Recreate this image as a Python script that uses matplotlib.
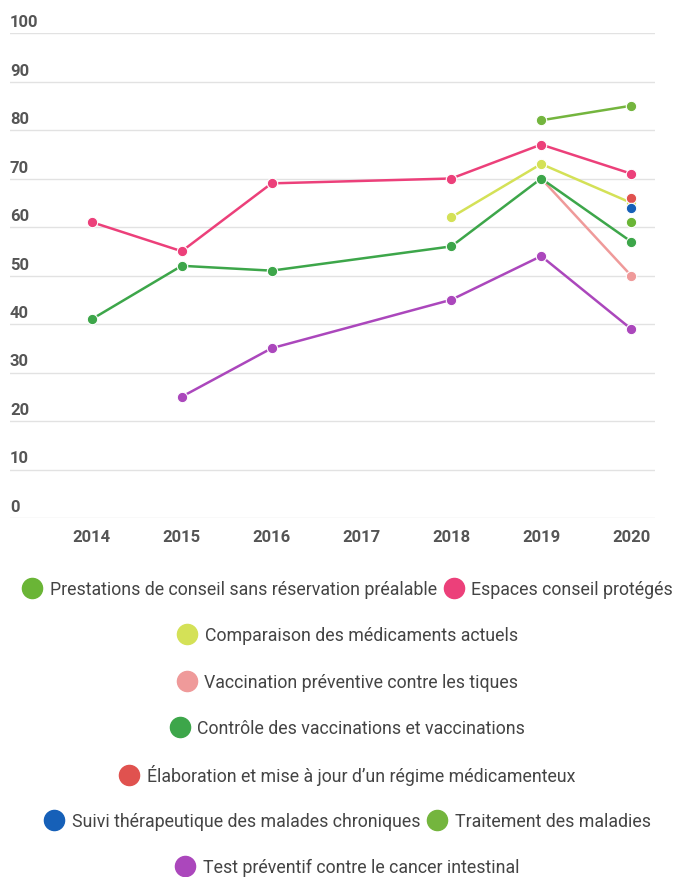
import numpy as np
import matplotlib.pyplot as plt
from matplotlib.lines import Line2D
import matplotlib.transforms as mtransforms

plt.rcParams['font.family'] = ['Roboto', 'DejaVu Sans']

nan = np.nan
years = ['2014', '2015', '2016', '2017', '2018', '2019', '2020']

prestations = [nan, nan, nan, nan, nan, nan, 61]
espaces = [61, 55, 69, nan, 70, 77, 71]
comparaison = [nan, nan, nan, nan, 62, 73, 65]
vacc_tiques = [nan, nan, nan, nan, nan, 70, 50]
controle = [41, 52, 51, nan, 56, 70, 57]
elaboration = [nan, nan, nan, nan, nan, nan, 66]
suivi = [nan, nan, nan, nan, nan, nan, 64]
traitement = [nan, nan, nan, nan, nan, 82, 85]
test_cancer = [nan, 25, 35, nan, 45, 54, 39]

labels = ['Prestations de conseil sans réservation préalable',
          'Espaces conseil protégés',
          'Comparaison des médicaments actuels',
          'Vaccination préventive contre les tiques',
          'Contrôle des vaccinations et vaccinations',
          "Élaboration et mise à jour d’un régime médicamenteux",
          'Suivi thérapeutique des malades chroniques',
          'Traitement des maladies',
          'Test préventif contre le cancer intestinal']
series = [prestations, espaces, comparaison, vacc_tiques, controle,
          elaboration, suivi, traitement, test_cancer]
colors = ['#6ab536', '#ec407a', '#d4e157', '#ef9a9a', '#3da64a',
          '#e0524f', '#1660b8', '#74b53e', '#ab47bc']
# legend rows as in the original (centered lines)
rows = [[0, 1], [2], [3], [4], [5], [6, 7], [8]]
row_y = [590, 636, 683, 729, 776, 822, 868]

W, H = 675, 878
fig = plt.figure(figsize=(W / 100, H / 100), dpi=100)
ax = fig.add_axes([10 / W, 1 - 519 / H, 645 / W, 485 / H])

x = np.arange(len(years))
for vals, c in zip(series, colors):
    v = np.array(vals, dtype=float)
    m = ~np.isnan(v)
    ax.plot(x[m], v[m], color=c, linewidth=1.8, marker='o', markersize=7.5,
            markeredgecolor='white', markeredgewidth=0.8, zorder=3)

ax.set_xlim(-82 / 90, 6 + 24 / 90)
ax.set_ylim(0, 100)
ax.set_xticks(x)
ax.set_xticklabels(years, fontsize=12, fontweight='bold', color='#555555')
ax.tick_params(axis='x', length=0, pad=8)
ax.set_yticks([])
for yv in range(0, 101, 10):
    ax.axhline(yv, color='#e2e2e2', linewidth=1, zorder=1)
    tr = mtransforms.offset_copy(ax.get_yaxis_transform(), fig=fig, y=4, units='dots')
    ax.text(0, yv, str(yv), transform=tr, ha='left', va='bottom',
            fontsize=12, fontweight='bold', color='#555555')
for s in ax.spines.values():
    s.set_visible(False)

for r, yy in zip(rows, row_y):
    handles = [Line2D([], [], linestyle='', marker='o', markersize=14.5,
                      color=colors[i]) for i in r]
    leg = fig.legend(handles, [labels[i] for i in r], loc='center',
                     bbox_to_anchor=(0.515, 1 - yy / H), ncol=len(r), frameon=False,
                     fontsize=12.8, handletextpad=0.45, columnspacing=0.4,
                     handlelength=1.1, borderpad=0)
    for t in leg.get_texts():
        t.set_color('#444444')

fig.savefig('out.png', dpi=100)
